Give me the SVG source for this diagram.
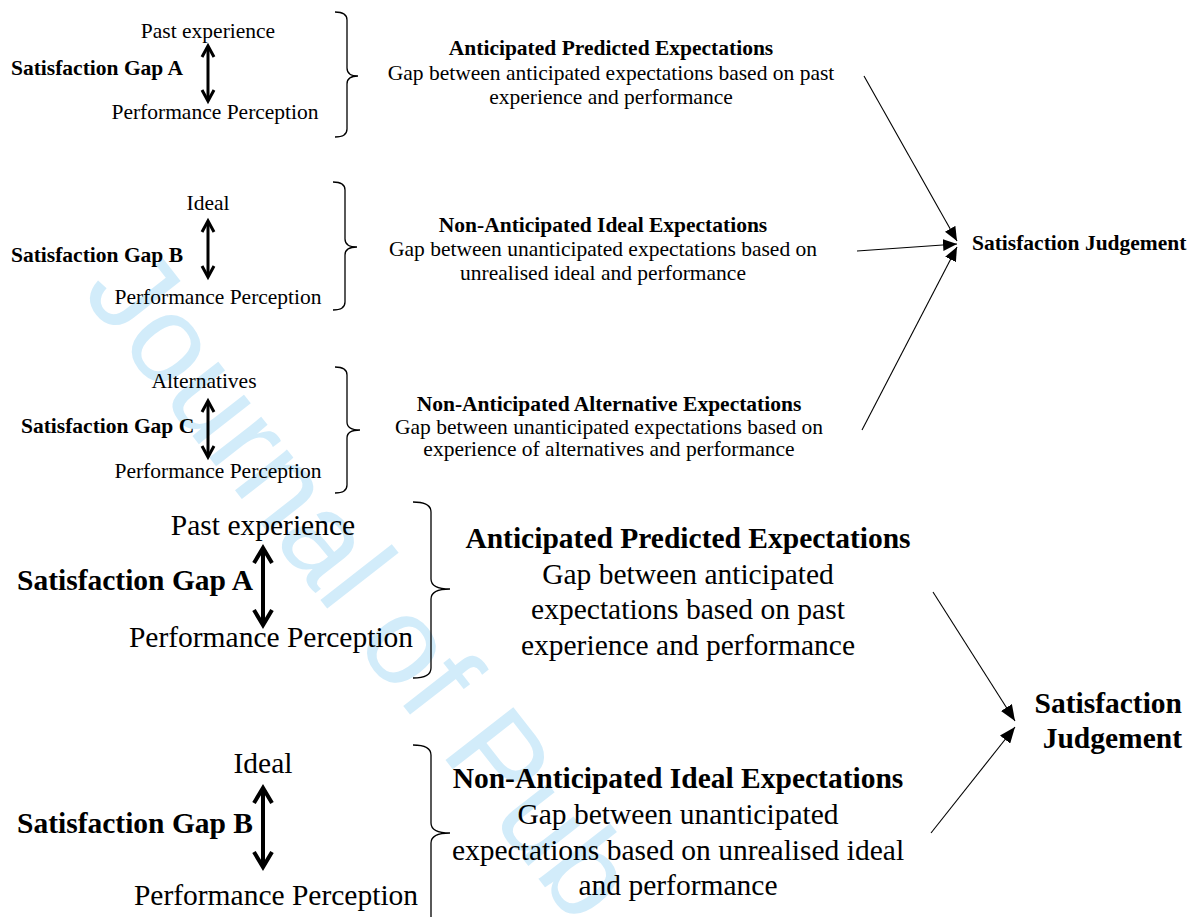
<svg xmlns="http://www.w3.org/2000/svg" width="1189" height="917" viewBox="0 0 1189 917">
<style>
text{font-family:"Liberation Serif","Times New Roman",serif;fill:#000}
.s{font-size:21.5px}
.l{font-size:29.5px}
.b{font-weight:bold}
.c{text-anchor:middle}
.brace{fill:none;stroke:#000;stroke-width:1.3}
.dbl{fill:none;stroke:#000;stroke-width:3;stroke-linecap:butt;stroke-linejoin:miter}
.dbl2{fill:none;stroke:#000;stroke-width:4;stroke-linejoin:miter}
.conn{fill:none;stroke:#000;stroke-width:1.1}
.wm{font-family:"Liberation Sans",Arial,sans-serif;font-size:125px;fill:#d2ecfa}
</style>
<defs>
<marker id="ah" markerUnits="userSpaceOnUse" markerWidth="14" markerHeight="12" refX="14" refY="6" orient="auto">
<path d="M0,0 L14,6 L0,12 z" fill="#000"/>
</marker>
<marker id="ah2" markerUnits="userSpaceOnUse" markerWidth="16" markerHeight="13" refX="16" refY="6.5" orient="auto">
<path d="M0,0 L16,6.5 L0,13 z" fill="#000"/>
</marker>
</defs>
<rect width="1189" height="917" fill="#fff"/>
<text class="wm" x="80" y="292" transform="rotate(52 80 292)">Journal of Pub</text>

<g id="gapA-top">
<text class="s c" x="208" y="38">Past experience</text>
<text class="s b" x="11" y="75">Satisfaction Gap A</text>
<line class="dbl" x1="208" y1="47" x2="208" y2="100"/>
<polyline class="dbl" points="202,57 208,46 214,57"/>
<polyline class="dbl" points="202,90 208,101 214,90"/>
<text class="s c" x="215" y="119">Performance Perception</text>
<path class="brace" d="M335,12 Q347,12 347,20 L347,68 Q347,76 358,76 Q347,76 347,84 L347,129 Q347,137 335,137"/>
</g>
<g id="expA-top">
<text class="s b c" x="611" y="55">Anticipated Predicted Expectations</text>
<text class="s c" x="611" y="80">Gap between anticipated expectations based on past</text>
<text class="s c" x="611" y="104">experience and performance</text>
</g>

<g id="gapB-top">
<text class="s c" x="208" y="210">Ideal</text>
<text class="s b" x="11" y="262">Satisfaction Gap B</text>
<line class="dbl" x1="208" y1="222" x2="208" y2="276"/>
<polyline class="dbl" points="202,232 208,221 214,232"/>
<polyline class="dbl" points="202,266 208,277 214,266"/>
<text class="s c" x="218" y="304">Performance Perception</text>
<path class="brace" d="M333,182 Q345,182 345,190 L345,239 Q345,247 357,247 Q345,247 345,255 L345,302 Q345,310 333,310"/>
</g>
<g id="expB-top">
<text class="s b c" x="603" y="232">Non-Anticipated Ideal Expectations</text>
<text class="s c" x="603" y="256">Gap between unanticipated expectations based on</text>
<text class="s c" x="603" y="280">unrealised ideal and performance</text>
</g>

<g id="gapC-top">
<text class="s c" x="204" y="388">Alternatives</text>
<text class="s b" x="21" y="433">Satisfaction Gap C</text>
<line class="dbl" x1="208" y1="402" x2="208" y2="456"/>
<polyline class="dbl" points="202,412 208,401 214,412"/>
<polyline class="dbl" points="202,446 208,457 214,446"/>
<text class="s c" x="218" y="478">Performance Perception</text>
<path class="brace" d="M335,367 Q347,367 347,375 L347,422 Q347,430 360,430 Q347,430 347,438 L347,485 Q347,493 335,493"/>
</g>
<g id="expC-top">
<text class="s b c" x="609" y="411">Non-Anticipated Alternative Expectations</text>
<text class="s c" x="609" y="434">Gap between unanticipated expectations based on</text>
<text class="s c" x="609" y="456">experience of alternatives and performance</text>
</g>

<g id="judgement-top">
<text class="s b" x="972" y="250">Satisfaction Judgement</text>
</g>

<g id="gapA-bottom">
<text class="l c" x="263" y="535">Past experience</text>
<text class="l b" x="17" y="590">Satisfaction Gap A</text>
<line class="dbl2" x1="263" y1="550" x2="263" y2="623"/>
<polyline class="dbl2" points="254,563 263,548 272,563"/>
<polyline class="dbl2" points="254,610 263,625 272,610"/>
<text class="l c" x="271" y="647">Performance Perception</text>
<path class="brace" d="M413,502 Q431,502 431,512 L431,579 Q431,589 450,589 Q431,589 431,599 L431,668 Q431,678 413,678"/>
</g>
<g id="expA-bottom">
<text class="l b c" x="688" y="548">Anticipated Predicted Expectations</text>
<text class="l c" x="688" y="584">Gap between anticipated</text>
<text class="l c" x="688" y="619">expectations based on past</text>
<text class="l c" x="688" y="655">experience and performance</text>
</g>

<g id="gapB-bottom">
<text class="l c" x="263" y="773">Ideal</text>
<text class="l b" x="17" y="833">Satisfaction Gap B</text>
<line class="dbl2" x1="263" y1="790" x2="263" y2="865"/>
<polyline class="dbl2" points="254,803 263,788 272,803"/>
<polyline class="dbl2" points="254,852 263,867 272,852"/>
<text class="l c" x="276" y="905">Performance Perception</text>
<path class="brace" d="M413,745 Q431,745 431,755 L431,823 Q431,833 450,833 Q431,833 431,843 L431,925"/>
</g>
<g id="expB-bottom">
<text class="l b c" x="678" y="788">Non-Anticipated Ideal Expectations</text>
<text class="l c" x="678" y="824">Gap between unanticipated</text>
<text class="l c" x="678" y="860">expectations based on unrealised ideal</text>
<text class="l c" x="678" y="895">and performance</text>
</g>

<g id="judgement-bottom">
<text class="l b" x="1182" y="713" text-anchor="end">Satisfaction</text>
<text class="l b" x="1182" y="748" text-anchor="end">Judgement</text>
</g>

<g id="connectors">
<line class="conn" x1="864" y1="76" x2="957" y2="241" marker-end="url(#ah)"/>
<line class="conn" x1="857" y1="251" x2="957" y2="244" marker-end="url(#ah)"/>
<line class="conn" x1="862" y1="430" x2="957" y2="247" marker-end="url(#ah)"/>
<line class="conn" x1="933" y1="592" x2="1015" y2="721" marker-end="url(#ah2)"/>
<line class="conn" x1="931" y1="833" x2="1015" y2="727" marker-end="url(#ah2)"/>
</g>
</svg>
